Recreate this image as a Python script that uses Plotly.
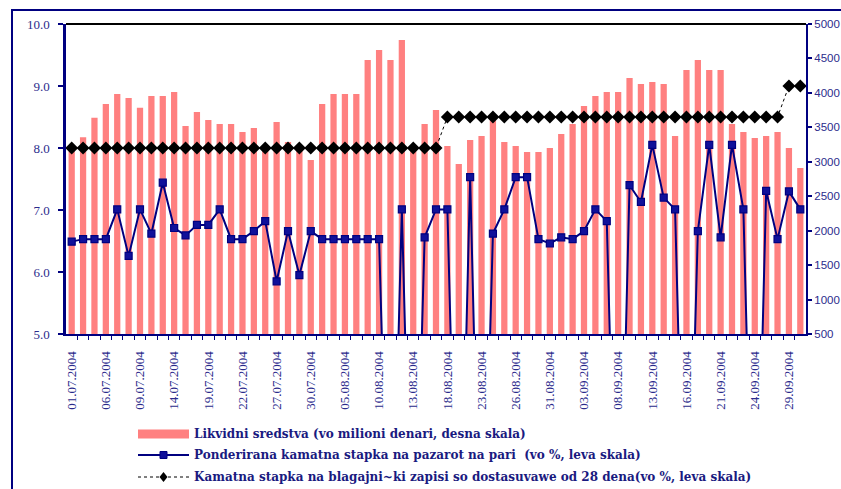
import plotly.graph_objects as go

# ---------------- data ----------------
dates = [
    "01.07.2004", "02.07.2004", "05.07.2004", "06.07.2004", "07.07.2004", "08.07.2004", "09.07.2004",
    "12.07.2004", "13.07.2004", "14.07.2004", "15.07.2004", "16.07.2004", "19.07.2004", "20.07.2004",
    "21.07.2004", "22.07.2004", "23.07.2004", "26.07.2004", "27.07.2004", "28.07.2004", "29.07.2004",
    "30.07.2004",
    "03.08.2004", "04.08.2004", "05.08.2004", "06.08.2004", "09.08.2004", "10.08.2004", "11.08.2004",
    "12.08.2004", "13.08.2004", "16.08.2004", "17.08.2004", "18.08.2004", "19.08.2004", "20.08.2004",
    "23.08.2004", "24.08.2004", "25.08.2004", "26.08.2004", "27.08.2004", "30.08.2004", "31.08.2004",
    "01.09.2004", "02.09.2004", "03.09.2004", "06.09.2004", "07.09.2004", "08.09.2004", "09.09.2004",
    "10.09.2004", "13.09.2004", "14.09.2004", "15.09.2004", "16.09.2004", "17.09.2004", "20.09.2004",
    "21.09.2004", "22.09.2004", "23.09.2004", "24.09.2004", "27.09.2004", "28.09.2004", "29.09.2004",
    "30.09.2004",
]

likvidni = [
    3200, 3355, 3640, 3839, 3984, 3926, 3785, 3955, 3955, 4013,
    3519, 3723, 3606, 3548, 3548, 3432, 3490, 3200, 3577, 3287,
    3200, 3026, 3839, 3984, 3984, 3984, 4477, 4623, 4477, 4768,
    3180, 3548, 3752, 3229, 2968, 3316, 3374, 3606, 3287, 3229,
    3142, 3142, 3200, 3403, 3548, 3810, 3955, 4013, 4013, 4216,
    4129, 4158, 4129, 3374, 4332, 4477, 4332, 4332, 3548, 3432,
    3345, 3374, 3432, 3200, 2910,
]

ponderirana = [
    6.49, 6.53, 6.53, 6.53, 7.01, 6.26, 7.01, 6.62, 7.44, 6.71,
    6.59, 6.76, 6.76, 7.01, 6.53, 6.53, 6.66, 6.82, 5.85, 6.66,
    5.95, 6.66, 6.53, 6.53, 6.53, 6.53, 6.53, 6.53, 0.0, 7.01,
    0.0, 6.56, 7.01, 7.01, 0.0, 7.53, 0.0, 6.62, 7.01, 7.53,
    7.53, 6.53, 6.46, 6.56, 6.53, 6.66, 7.01, 6.82, 0.0, 7.40,
    7.13, 8.05, 7.20, 7.01, 0.0, 6.66, 8.05, 6.56, 8.05, 7.01,
    0.0, 7.31, 6.53, 7.30, 7.01,
]

blagajnicki = [8.0] * 33 + [8.5] * 30 + [9.0] * 2

names = [
    "Likvidni sredstva (vo milioni denari, desna skala)",
    "Ponderirana kamatna stapka na pazarot na pari  (vo %, leva skala)",
    "Kamatna stapka na blagajni~ki zapisi so dostasuvawe od 28 dena(vo %, leva skala)",
]

left_ticks = [5.0, 6.0, 7.0, 8.0, 9.0, 10.0]
right_ticks = [500, 1000, 1500, 2000, 2500, 3000, 3500, 4000, 4500, 5000]

# ---------------- styling ----------------
NAVY = "#000080"
LABEL = "#2B2B8C"
BAR = "#FF8080"
W, H = 841, 489
L, R, T, B = 66, 806, 24, 334

x_idx = list(range(len(dates)))


def px_x(p):
    # screen x -> paper x
    return (p - L) / (R - L)


def px_y(p):
    # screen y -> paper y
    return (B - p) / (B - T)


fig = go.Figure()
fig.add_trace(go.Bar(
    x=x_idx, y=likvidni, name=names[0], marker=dict(color=BAR, line=dict(width=0)),
    yaxis="y", showlegend=False,
))
fig.add_trace(go.Scatter(
    x=x_idx, y=ponderirana, name=names[1], mode="lines+markers", yaxis="y2",
    line=dict(color=NAVY, width=2),
    marker=dict(symbol="square", size=7, color="#10109a", line=dict(color=NAVY, width=1.2)),
    showlegend=False,
))
fig.add_trace(go.Scatter(
    x=x_idx, y=blagajnicki, name=names[2], mode="lines+markers", yaxis="y2",
    line=dict(color="black", width=1, dash="dot"),
    marker=dict(symbol="diamond", size=10, color="black"),
    showlegend=False,
))

fig.update_layout(
    template="none",
    width=W, height=H,
    margin=dict(l=L, r=W - R, t=T, b=H - B, autoexpand=False),
    paper_bgcolor="white", plot_bgcolor="white",
    bargap=0.45,
    showlegend=False,
    xaxis=dict(
        automargin=False,
        range=[-0.5, len(dates) - 0.5],
        tickmode="array", tickvals=x_idx[::3], ticktext=dates[::3],
        tickangle=-90, ticks="",
        tickfont=dict(family="Liberation Serif", size=13, color=LABEL),
        ticklabelstandoff=10,
        showline=True, linecolor=NAVY, linewidth=2,
        showgrid=False, zeroline=False,
        minor=dict(tickmode="array", tickvals=[i + 0.5 for i in x_idx[:-1]],
                   ticks="outside", ticklen=4, tickcolor=NAVY, tickwidth=1, showgrid=False),
    ),
    yaxis=dict(
        automargin=False,
        side="right", range=[500, 5000],
        tickmode="array", tickvals=right_ticks, ticktext=[str(v) for v in right_ticks],
        ticks="outside", ticklen=4, tickcolor=NAVY, tickwidth=1.5,
        tickfont=dict(family="Liberation Sans", size=11.5, color=LABEL),
        ticklabelstandoff=0,
        showline=True, linecolor=NAVY, linewidth=2,
        showgrid=False, zeroline=False,
    ),
    yaxis2=dict(
        automargin=False,
        side="left", overlaying="y", range=[5.0, 10.0],
        tickmode="array", tickvals=left_ticks, ticktext=[f"{v:.1f}" for v in left_ticks],
        ticks="outside", ticklen=5, tickcolor=NAVY, tickwidth=1.5,
        tickfont=dict(family="Liberation Serif", size=13, color=LABEL),
        ticklabelstandoff=6,
        showline=True, linecolor=NAVY, linewidth=2.5,
        showgrid=False, zeroline=False,
    ),
)

shapes = []
# outer frame (extends past the visible page on right and bottom)
shapes.append(dict(type="rect", xref="paper", yref="paper",
                   x0=px_x(12), x1=px_x(12 + 1000), y0=px_y(10 + 1000), y1=px_y(10),
                   line=dict(color=NAVY, width=2), fillcolor="rgba(0,0,0,0)", layer="above"))
# plot area top border
shapes.append(dict(type="line", xref="paper", yref="paper", x0=0, x1=1, y0=1, y1=1,
                   line=dict(color="black", width=2)))

# custom legend
sx0, sx1, tx = 138, 189, 192
rows = [434, 455, 477]
shapes.append(dict(type="rect", xref="paper", yref="paper",
                   x0=px_x(sx0), x1=px_x(sx1), y0=px_y(rows[0] + 4.5), y1=px_y(rows[0] - 4.5),
                   line=dict(width=0), fillcolor=BAR))
shapes.append(dict(type="line", xref="paper", yref="paper",
                   x0=px_x(sx0), x1=px_x(sx1), y0=px_y(rows[1]), y1=px_y(rows[1]),
                   line=dict(color=NAVY, width=2)))
cx = (sx0 + sx1) / 2
shapes.append(dict(type="rect", xref="paper", yref="paper",
                   x0=px_x(cx - 3.5), x1=px_x(cx + 3.5), y0=px_y(rows[1] + 3.5), y1=px_y(rows[1] - 3.5),
                   line=dict(color=NAVY, width=1), fillcolor="#10109a"))
shapes.append(dict(type="line", xref="paper", yref="paper",
                   x0=px_x(sx0), x1=px_x(sx1), y0=px_y(rows[2]), y1=px_y(rows[2]),
                   line=dict(color="black", width=1, dash="dot")))
d = 5
shapes.append(dict(type="path", xref="paper", yref="paper",
                   path=(f"M {px_x(cx)} {px_y(rows[2] - d)} L {px_x(cx + 4)} {px_y(rows[2])} "
                         f"L {px_x(cx)} {px_y(rows[2] + d)} L {px_x(cx - 4)} {px_y(rows[2])} Z"),
                   line=dict(color="black", width=0), fillcolor="black"))

annotations = []
for name, ry in zip(names, rows):
    annotations.append(dict(
        xref="paper", yref="paper", x=px_x(tx), y=px_y(ry), xanchor="left", yanchor="middle",
        text=f"<b>{name}</b>", showarrow=False,
        font=dict(family="DejaVu Serif", size=12, color="#1A1A80"),
    ))

fig.update_layout(shapes=shapes, annotations=annotations)
fig.write_html(
    "out.html",
    config={"displayModeBar": False},
    post_script="document.body.style.margin='0'; document.body.style.overflow='hidden';",
)
